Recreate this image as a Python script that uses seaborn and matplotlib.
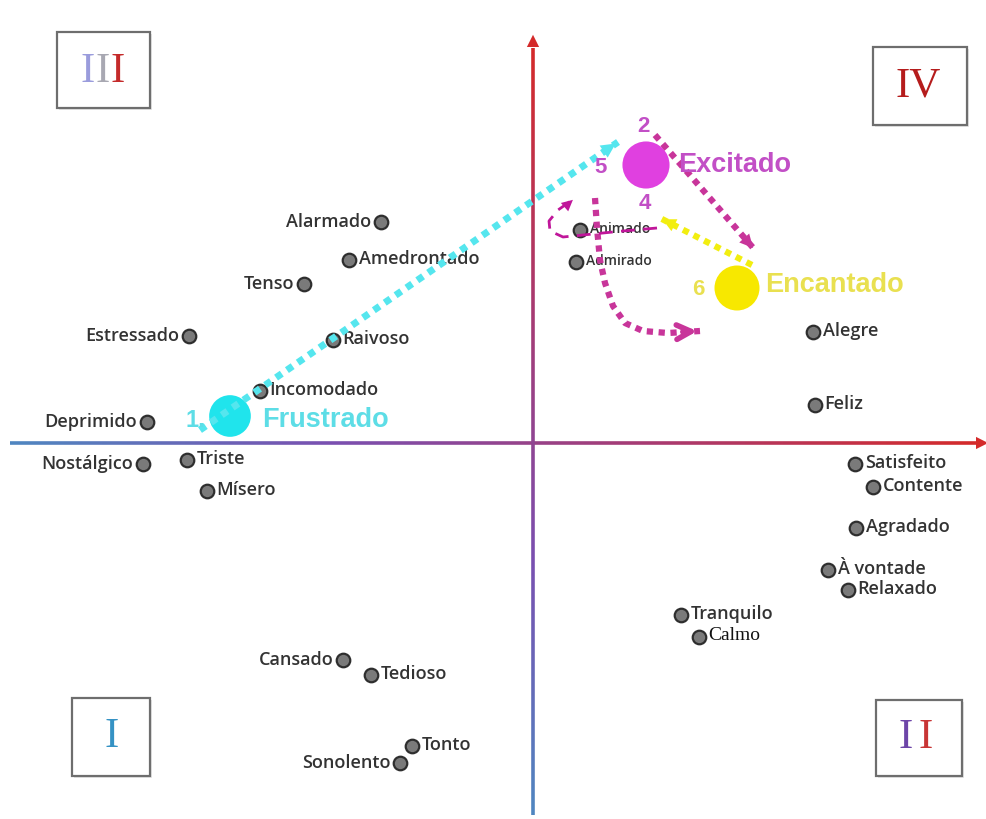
import matplotlib.pyplot as plt
import numpy as np
import pandas as pd
import seaborn as sns
from matplotlib.collections import LineCollection
from matplotlib.colors import LinearSegmentedColormap
from matplotlib.patches import Rectangle

# emotion words: position on valence (x) / arousal (y) plane, origin at axes crossing
words = ["Alarmado", "Amedrontado", "Tenso", "Estressado", "Raivoso", "Incomodado",
         "Deprimido", "Nostálgico", "Triste", "Mísero", "Cansado", "Tedioso", "Tonto",
         "Sonolento", "Tranquilo", "Calmo", "À vontade", "Relaxado", "Agradado",
         "Contente", "Satisfeito", "Feliz", "Alegre", "Animado", "Admirado"]
word_x = [-152, -184, -229, -344, -200, -273, -386, -390, -346, -326, -190, -162, -121,
          -133, 148, 166, 295, 315, 323, 340, 322, 282, 280, 47, 43]
word_y = [221, 183, 159, 107, 103, 52, 21, -21, -17, -48, -217, -232, -303,
          -320, -172, -194, -127, -147, -85, -44, -21, 38, 111, 213, 181]
left_labels = {"Alarmado", "Tenso", "Estressado", "Deprimido", "Nostálgico",
               "Cansado", "Sonolento"}

# highlighted states
states = ["Frustrado", "Excitado", "Encantado"]
state_x = [-303, 113, 204]
state_y = [27, 278, 155]
state_numbers = {"Frustrado": ["1."], "Excitado": ["2", "5", "4"], "Encantado": ["6"]}

# transition paths
path_cyan_x = [-333, 85]
path_cyan_y = [13, 301]
path_mag_x = [122, 222]
path_mag_y = [308, 193]
path_yel_x = [219, 127]
path_yel_y = [178, 225]
path_curve_x = [62, 64, 67, 72, 80, 92, 110, 135, 167]
path_curve_y = [245, 215, 183, 160, 137, 120, 112, 110, 112]
path_dash_x = [124, 90, 60, 30, 17, 16, 25, 42]
path_dash_y = [215, 212, 209, 206, 212, 222, 233, 245]

quadrants = ["III", "IV", "I", "II"]

df_words = pd.DataFrame({"word": words, "x": word_x, "y": word_y})
df_states = pd.DataFrame({"state": states, "x": state_x, "y": state_y})

sns.set_style("white")
plt.rcParams["font.family"] = ["Open Sans", "DejaVu Sans"]

fig = plt.figure(figsize=(9.86, 8.19), dpi=100)
ax = fig.add_axes([0, 0, 1, 1])
ax.set_xlim(-533, 453)
ax.set_ylim(-376, 443)
ax.axis("off")

# gradient axes
grad = LinearSegmentedColormap.from_list("g", ["#4f86c0", "#7a4fb0", "#a83a70", "#d42a2a"])
hx = np.linspace(-523, 445, 200)
segs = [[(hx[i], 0), (hx[i + 1], 0)] for i in range(len(hx) - 1)]
ax.add_collection(LineCollection(segs, colors=grad(np.linspace(0, 1, len(segs))), linewidths=2.6))
vy = np.linspace(-372, 395, 200)
segs = [[(0, vy[i]), (0, vy[i + 1])] for i in range(len(vy) - 1)]
ax.add_collection(LineCollection(segs, colors=grad(np.linspace(0, 1, len(segs))), linewidths=2.6))
ax.annotate("", xy=(0, 411), xytext=(0, 388),
            arrowprops=dict(arrowstyle="-|>", color="#d42a2a", lw=0, mutation_scale=22))
ax.annotate("", xy=(458, 0), xytext=(435, 0),
            arrowprops=dict(arrowstyle="-|>", color="#d42a2a", lw=0, mutation_scale=22),
            annotation_clip=False)

# quadrant boxes
boxes = {"III": (-476, 335, 93, 76), "IV": (340, 318, 94, 78),
         "I": (-461, -333, 78, 78), "II": (343, -333, 86, 76)}
for q in quadrants:
    bx, by, bw, bh = boxes[q]
    ax.add_patch(Rectangle((bx + 2, by - 2), bw, bh, facecolor="#e6e6e6", edgecolor="none", zorder=1))
    ax.add_patch(Rectangle((bx, by), bw, bh, facecolor="white", edgecolor="#6e6e6e", lw=1.6, zorder=2))
serif = dict(family=["Liberation Serif", "DejaVu Serif"], fontsize=31, ha="center", va="center",
             zorder=3)
for cx, col in zip([-445, -430, -415], ["#9a9cdc", "#a8a8b2", "#c42a2a"]):
    ax.text(cx, 371, "I", color=col, **serif)
ax.text(385, 357, "IV", color="#b51c1c", **serif)
ax.text(-421, -294, "I", color="#3592c4", **serif)
for cx, col in zip([373, 393], ["#6d45a8", "#c83535"]):
    ax.text(cx, -295, "I", color=col, **serif)

# transition paths
dot = (0, (1, 0.9))
ax.plot(path_cyan_x, path_cyan_y, color="#55e6ee", lw=5, ls=dot, zorder=6)
ax.annotate("", xy=(path_cyan_x[-1], path_cyan_y[-1]), xytext=(path_cyan_x[-1] - 12, path_cyan_y[-1] - 8),
            arrowprops=dict(arrowstyle="-|>", color="#55e6ee", lw=0, mutation_scale=26), zorder=6)
ax.plot(path_mag_x, path_mag_y, color="#c8359a", lw=4.5, ls=dot, zorder=6)
ax.annotate("", xy=(path_mag_x[-1], path_mag_y[-1]), xytext=(path_mag_x[-1] - 9, path_mag_y[-1] + 10),
            arrowprops=dict(arrowstyle="-|>", color="#c8359a", lw=0, mutation_scale=24), zorder=6)
ax.plot(path_yel_x, path_yel_y, color="#f2ee10", lw=4.5, ls=dot, zorder=6)
ax.annotate("", xy=(path_yel_x[-1], path_yel_y[-1]), xytext=(path_yel_x[-1] + 12, path_yel_y[-1] - 6),
            arrowprops=dict(arrowstyle="-|>", color="#f2ee10", lw=0, mutation_scale=24), zorder=6)
ax.plot(path_curve_x, path_curve_y, color="#c8359a", lw=4.5, ls=dot, zorder=6)
ax.annotate("", xy=(path_curve_x[-1], path_curve_y[-1]), xytext=(path_curve_x[-1] - 20, path_curve_y[-1] - 1),
            arrowprops=dict(arrowstyle="->", color="#c8359a", lw=4, mutation_scale=26), zorder=6)
ax.plot(path_dash_x, path_dash_y, color="#c0169a", lw=2, ls=(0, (5, 3)), zorder=6)
ax.annotate("", xy=(path_dash_x[-1], path_dash_y[-1]), xytext=(path_dash_x[-1] - 8, path_dash_y[-1] - 7),
            arrowprops=dict(arrowstyle="-|>", color="#c0169a", lw=0, mutation_scale=20), zorder=6)

# emotion word markers
sns.scatterplot(data=df_words, x="x", y="y", s=95, color="#7a7a7a", edgecolor="#2e2e2e",
                linewidth=1.6, ax=ax, zorder=4, legend=False)
for w, x, y in zip(words, word_x, word_y):
    small = w in ("Animado", "Admirado")
    kw = dict(fontsize=10 if small else 13, color="#333333", va="center", fontweight="semibold", zorder=5)
    if w == "Calmo":
        kw["family"] = ["Liberation Serif", "DejaVu Serif"]
        kw["color"] = "#111111"
        kw["fontweight"] = "normal"
        kw["fontsize"] = 14
    if w in left_labels:
        ax.annotate(w, (x, y), xytext=(-7, 0), textcoords="offset points", ha="right", **kw)
    else:
        ax.annotate(w, (x, y), xytext=(7, 1), textcoords="offset points", ha="left", **kw)

# highlighted states
state_colors = ["#20e4ec", "#e040e0", "#f7e800"]
text_colors = ["#5ddde6", "#c24fc6", "#e9e050"]
sizes = [900, 1150, 1050]
sns.scatterplot(data=df_states, x="x", y="y", hue="state", palette=state_colors,
                size="state", sizes=dict(zip(states, sizes)), linewidth=0,
                ax=ax, zorder=5, legend=False)
bold = dict(family=["Liberation Sans", "DejaVu Sans"], fontweight="bold", va="center", zorder=7)
ax.annotate("Frustrado", (state_x[0], state_y[0]), xytext=(23, -3), textcoords="offset points",
            fontsize=19.5, color=text_colors[0], **bold)
ax.annotate("1.", (state_x[0], state_y[0]), xytext=(-18, -3), textcoords="offset points",
            fontsize=17, color=text_colors[0], ha="right", **bold)
ax.annotate("Excitado", (state_x[1], state_y[1]), xytext=(23, 0), textcoords="offset points",
            fontsize=19.5, color=text_colors[1], **bold)
for num, off in zip(state_numbers["Excitado"], [(-2, 28), (-33, -2), (-1, -28)]):
    ax.annotate(num, (state_x[1], state_y[1]), xytext=off, textcoords="offset points",
                fontsize=16, color=text_colors[1], ha="center", **bold)
ax.annotate("Encantado", (state_x[2], state_y[2]), xytext=(20, 2), textcoords="offset points",
            fontsize=19.5, color=text_colors[2], **bold)
ax.annotate("6", (state_x[2], state_y[2]), xytext=(-28, -1), textcoords="offset points",
            fontsize=16, color=text_colors[2], ha="center", **bold)

fig.savefig("out.png", dpi=100)
